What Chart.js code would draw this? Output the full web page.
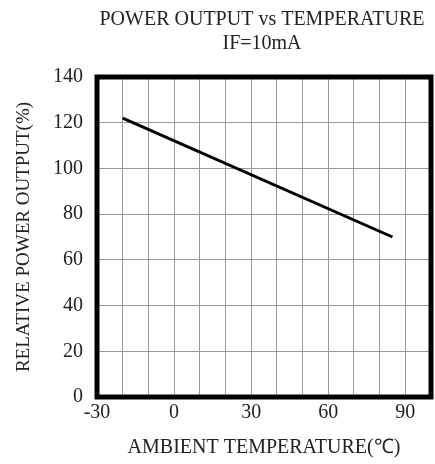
<!DOCTYPE html>
<html>
<head>
<meta charset="utf-8">
<script src="https://cdn.jsdelivr.net/npm/chart.js@4"></script>
<style>
  body { margin: 0; background: #fff; }
  #wrap { width: 435px; height: 464px; }
</style>
</head>
<body>
<div id="wrap"><canvas id="chart"></canvas></div>
<script>
const temps = [-20, 85];
const power = [122, 70];
const titleLines = ["POWER OUTPUT vs TEMPERATURE", "IF=10mA"];
const xLabels = [-30, 0, 30, 60, 90];

const serif = "'Liberation Serif', 'Times New Roman', serif";

// frame + title drawn around the chart area
const framePlugin = {
  id: "frame",
  afterDraw(chart) {
    const {ctx, chartArea} = chart;
    ctx.save();
    ctx.strokeStyle = "#000";
    ctx.lineWidth = 5;
    ctx.strokeRect(chartArea.left, chartArea.top,
      chartArea.right - chartArea.left, chartArea.bottom - chartArea.top);
    ctx.fillStyle = "#222";
    ctx.font = "20px " + serif;
    ctx.textAlign = "center";
    ctx.textBaseline = "middle";
    const cx = (chartArea.left + chartArea.right) / 2 - 2;
    ctx.fillText(titleLines[0], cx, 20);
    ctx.fillText(titleLines[1], cx, 44);
    ctx.restore();
  },
};

new Chart(document.getElementById("chart"), {
  type: "line",
  data: {
    datasets: [
      {
        data: temps.map((t, i) => ({x: t, y: power[i]})),
        borderColor: "#000",
        borderWidth: 3,
        pointRadius: 0,
        tension: 0,
      },
    ],
  },
  options: {
    responsive: true,
    maintainAspectRatio: false,
    animation: false,
    layout: {
      padding: {top: 77, right: 1.5, left: 0, bottom: 0},
    },
    plugins: {
      legend: {display: false},
      tooltip: {enabled: false},
    },
    scales: {
      x: {
        type: "linear",
        min: -30,
        max: 100,
        afterFit: (s) => { s.height = 67; },
        border: {display: false},
        grid: {color: "#999", lineWidth: 1, drawTicks: false},
        ticks: {
          stepSize: 10,
          autoSkip: false,
          maxRotation: 0,
          padding: 4,
          color: "#222",
          font: {family: serif, size: 20},
          callback: (v) => (xLabels.includes(v) ? String(v) : ""),
        },
        title: {
          display: true,
          text: "AMBIENT TEMPERATURE(℃)",
          color: "#222",
          font: {family: serif, size: 20},
          padding: {top: 0, bottom: 4},
        },
      },
      y: {
        min: 0,
        max: 140,
        afterFit: (s) => { s.width = 97; },
        border: {display: false},
        grid: {color: "#999", lineWidth: 1, drawTicks: false},
        ticks: {
          stepSize: 20,
          padding: 14,
          color: "#222",
          font: {family: serif, size: 20},
        },
        title: {
          display: true,
          text: "RELATIVE POWER OUTPUT(%)",
          color: "#222",
          font: {family: serif, size: 19},
          padding: {top: 13, bottom: 0},
        },
      },
    },
  },
  plugins: [framePlugin],
});
</script>
</body>
</html>
